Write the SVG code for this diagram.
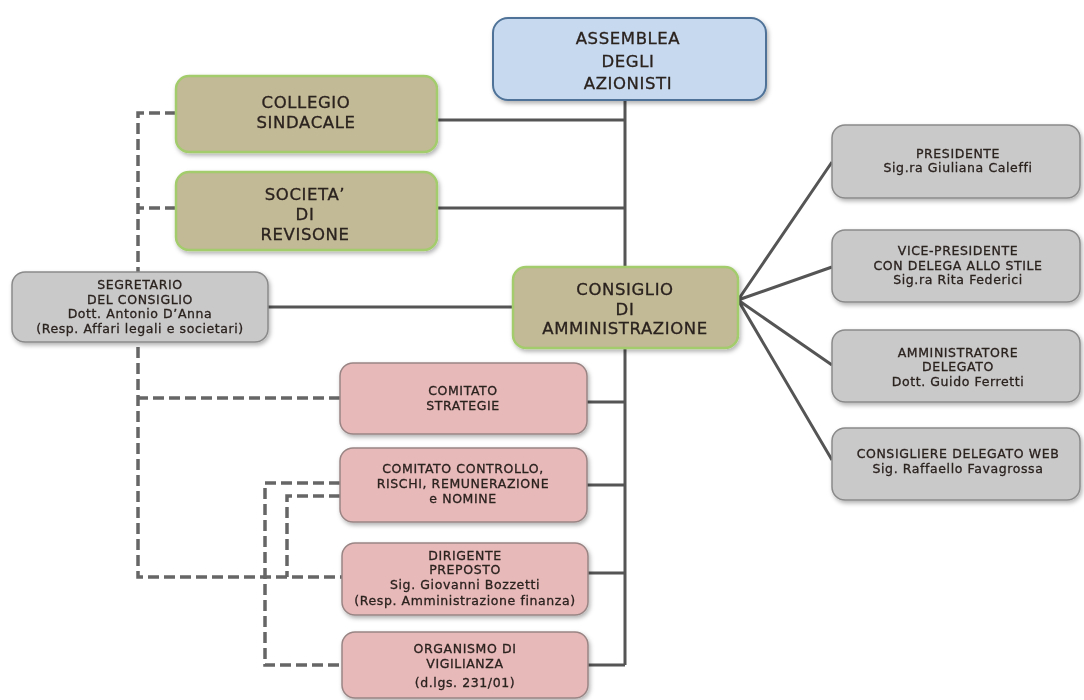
<svg xmlns="http://www.w3.org/2000/svg" width="1084" height="700" viewBox="0 0 1084 700">
<style>
.t{font-family:"DejaVu Sans","Liberation Sans",sans-serif;fill:#2a211e;stroke:#2a211e;stroke-width:0.3;text-anchor:middle}
.big{font-size:16.5px;letter-spacing:0.6px}
.sm{font-size:12.5px;letter-spacing:0.6px}
.solid{stroke:#555;stroke-width:3;fill:none}
.dash{stroke:#666;stroke-width:3.5;fill:none;stroke-dasharray:11 5}
.blue{fill:#c6d9ee;stroke:#4f7398;stroke-width:2}
.kh{fill:#c2b996;stroke:#a3cc6c;stroke-width:2.5}
.gray{fill:#c9c9c9;stroke:#8a8a8a;stroke-width:1.5}
.pink{fill:#e7b9b9;stroke:#9a8585;stroke-width:1.5}
</style>
<defs>
<filter id="sh" x="-10%" y="-10%" width="125%" height="130%">
<feDropShadow dx="1.5" dy="2.5" stdDeviation="2" flood-color="#000" flood-opacity="0.3"/>
</filter>
</defs>
<rect width="1084" height="700" fill="#fff"/>
<g id="connectors">
<path class="solid" d="M625 100V665"/>
<path class="solid" d="M437 120H625M437 208H625M268 307H513M587 402H625M587 485H625M588 573H625M588 665H625"/>
<path class="solid" d="M738 300L832 162M738 300L832 267M738 300L832 365M738 300L832 460"/>
<path class="dash" d="M176 113H138V577H342"/>
<path class="dash" d="M176 208H138"/>
<path class="dash" d="M340 398H138"/>
<path class="dash" d="M340 483H265V665H342"/>
<path class="dash" d="M340 496H287V577"/>
</g>
<g id="assemblea" filter="url(#sh)">
<rect class="blue" x="493" y="18" width="273" height="82" rx="15"/>
<text class="t big" x="628" y="44">ASSEMBLEA</text>
<text class="t big" x="628" y="67">DEGLI</text>
<text class="t big" x="628" y="89">AZIONISTI</text>
</g>
<g id="collegio" filter="url(#sh)">
<rect class="kh" x="176" y="76" width="261" height="76" rx="13"/>
<text class="t big" x="306" y="108">COLLEGIO</text>
<text class="t big" x="306" y="128">SINDACALE</text>
</g>
<g id="societa" filter="url(#sh)">
<rect class="kh" x="176" y="172" width="261" height="78" rx="13"/>
<text class="t big" x="305" y="200">SOCIETA’</text>
<text class="t big" x="305" y="220">DI</text>
<text class="t big" x="305" y="240">REVISONE</text>
</g>
<g id="segretario" filter="url(#sh)">
<rect class="gray" x="12" y="272" width="256" height="70" rx="13"/>
<text class="t sm" x="140" y="289">SEGRETARIO</text>
<text class="t sm" x="140" y="303.5">DEL CONSIGLIO</text>
<text class="t sm" x="140" y="318">Dott. Antonio D’Anna</text>
<text class="t sm" x="140" y="332.5">(Resp. Affari legali e societari)</text>
</g>
<g id="consiglio" filter="url(#sh)">
<rect class="kh" x="513" y="267" width="225" height="81" rx="13"/>
<text class="t big" x="625" y="295">CONSIGLIO</text>
<text class="t big" x="625" y="314.5">DI</text>
<text class="t big" x="625" y="334">AMMINISTRAZIONE</text>
</g>
<g id="presidente" filter="url(#sh)">
<rect class="gray" x="832" y="125" width="248" height="73" rx="13"/>
<text class="t sm" x="958" y="157.5">PRESIDENTE</text>
<text class="t sm" x="958" y="172">Sig.ra Giuliana Caleffi</text>
</g>
<g id="vicepresidente" filter="url(#sh)">
<rect class="gray" x="832" y="230" width="248" height="72" rx="13"/>
<text class="t sm" x="958" y="255">VICE-PRESIDENTE</text>
<text class="t sm" x="958" y="269.5">CON DELEGA ALLO STILE</text>
<text class="t sm" x="958" y="284">Sig.ra Rita Federici</text>
</g>
<g id="amministratore" filter="url(#sh)">
<rect class="gray" x="832" y="330" width="248" height="72" rx="13"/>
<text class="t sm" x="958" y="356.5">AMMINISTRATORE</text>
<text class="t sm" x="958" y="371">DELEGATO</text>
<text class="t sm" x="958" y="385.5">Dott. Guido Ferretti</text>
</g>
<g id="consigliere" filter="url(#sh)">
<rect class="gray" x="832" y="428" width="248" height="72" rx="13"/>
<text class="t sm" x="958" y="458">CONSIGLIERE DELEGATO WEB</text>
<text class="t sm" x="958" y="472.5">Sig. Raffaello Favagrossa</text>
</g>
<g id="strategie" filter="url(#sh)">
<rect class="pink" x="340" y="363" width="247" height="71" rx="13"/>
<text class="t sm" x="463" y="395">COMITATO</text>
<text class="t sm" x="463" y="410">STRATEGIE</text>
</g>
<g id="controllo" filter="url(#sh)">
<rect class="pink" x="340" y="448" width="247" height="74" rx="13"/>
<text class="t sm" x="463" y="473">COMITATO CONTROLLO,</text>
<text class="t sm" x="463" y="488">RISCHI, REMUNERAZIONE</text>
<text class="t sm" x="463" y="503">e NOMINE</text>
</g>
<g id="dirigente" filter="url(#sh)">
<rect class="pink" x="342" y="543" width="246" height="72" rx="13"/>
<text class="t sm" x="465" y="559.5">DIRIGENTE</text>
<text class="t sm" x="465" y="574">PREPOSTO</text>
<text class="t sm" x="465" y="588.5">Sig. Giovanni Bozzetti</text>
<text class="t sm" x="465" y="605">(Resp. Amministrazione finanza)</text>
</g>
<g id="organismo" filter="url(#sh)">
<rect class="pink" x="342" y="632" width="246" height="66" rx="13"/>
<text class="t sm" x="465" y="653">ORGANISMO DI</text>
<text class="t sm" x="465" y="668">VIGILIANZA</text>
<text class="t sm" x="465" y="687">(d.lgs. 231/01)</text>
</g>
</svg>
